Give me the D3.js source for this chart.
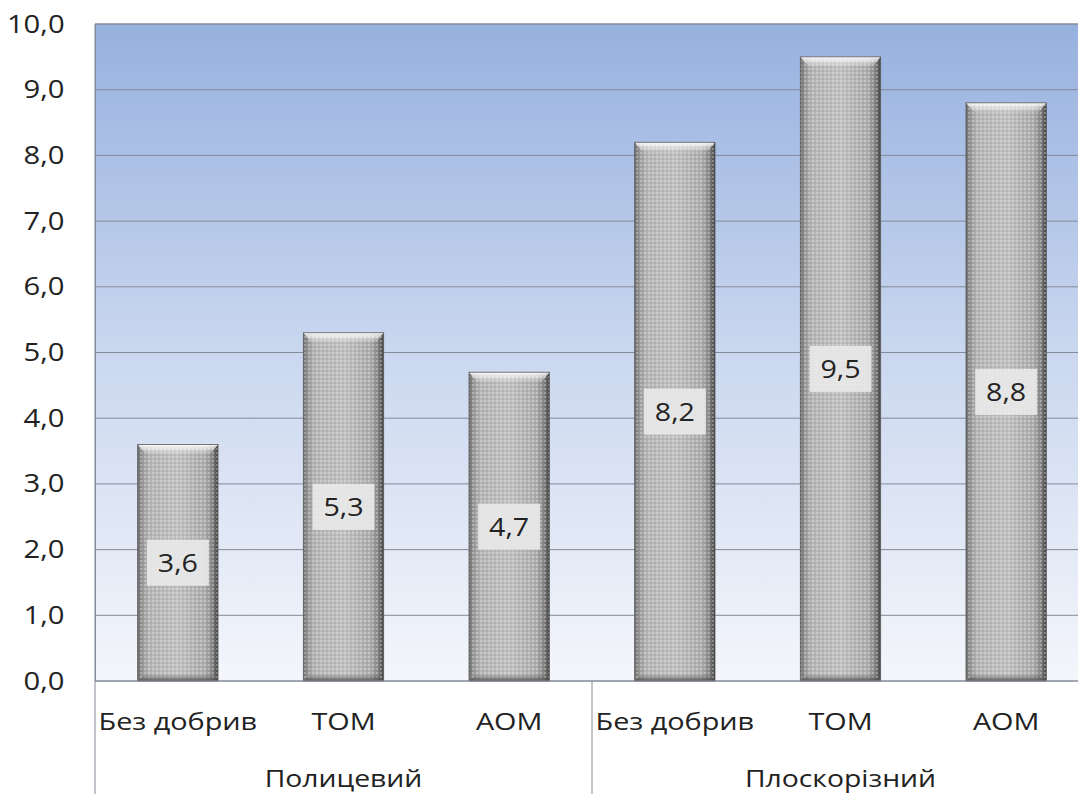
<!DOCTYPE html>
<html><head><meta charset="utf-8">
<script src="https://cdn.jsdelivr.net/npm/d3@7"></script>
<style>body{margin:0;background:#fff;}svg{display:block;font-family:"Open Sans",sans-serif;}</style>
</head><body><svg id="c" width="1078" height="794"></svg>
<script>
const groups = ["Полицевий", "Плоскорізний"];
const categories = ["Без добрив", "ТОМ", "АОМ"];
const values = [3.6, 5.3, 4.7, 8.2, 9.5, 8.8];
const yTicks = [0,1,2,3,4,5,6,7,8,9,10];

const svg = d3.select("#c");
const m = {left:95, top:24, right:1089, bottom:681};
const rows = [];
groups.forEach((g,gi)=>categories.forEach((c,ci)=>rows.push({g, c, key:g+"|"+c, v:values[gi*categories.length+ci]})));

const x = d3.scaleBand().domain(rows.map(r=>r.key)).range([m.left,m.right]).paddingInner(0.515).paddingOuter(0.2575);
const y = d3.scaleLinear().domain([0,10]).range([m.bottom,m.top]);
const fmt = v => d3.format(".1f")(v).replace(".", ",");
const textCol = "#222";

const defs = svg.append("defs");
const bg = defs.append("linearGradient").attr("id","bg").attr("x1",0).attr("y1",0).attr("x2",0).attr("y2",1);
bg.append("stop").attr("offset","0%").attr("stop-color","#97b1df");
bg.append("stop").attr("offset","50%").attr("stop-color","#cad7ef");
bg.append("stop").attr("offset","100%").attr("stop-color","#f4f6fb");

const bh = defs.append("linearGradient").attr("id","bh").attr("x1",0).attr("y1",0).attr("x2",1).attr("y2",0);
[["0%","#6a6a6a"],["6%","#999"],["14%","#b6b6b6"],["50%","#c2c2c2"],["84%","#adadad"],["93%","#858585"],["100%","#3e3e3e"]]
  .forEach(([o,c])=>bh.append("stop").attr("offset",o).attr("stop-color",c));
const pat = defs.append("pattern").attr("id","dots").attr("width",4).attr("height",4).attr("patternUnits","userSpaceOnUse");
pat.append("circle").attr("cx",1).attr("cy",1).attr("r",0.8).attr("fill","#eeeeee").attr("opacity",0.75);
pat.append("circle").attr("cx",3).attr("cy",3).attr("r",0.7).attr("fill","#6a6a6a").attr("opacity",0.4);
const tb = defs.append("linearGradient").attr("id","tb").attr("x1",0).attr("y1",0).attr("x2",0).attr("y2",1);
tb.append("stop").attr("offset","0%").attr("stop-color","#ffffff").attr("stop-opacity",0.95);
tb.append("stop").attr("offset","100%").attr("stop-color","#ffffff").attr("stop-opacity",0);
const bb = defs.append("linearGradient").attr("id","bb").attr("x1",0).attr("y1",0).attr("x2",0).attr("y2",1);
bb.append("stop").attr("offset","0%").attr("stop-color","#555").attr("stop-opacity",0);
bb.append("stop").attr("offset","100%").attr("stop-color","#444").attr("stop-opacity",0.75);

// plot background
svg.append("rect").attr("x",m.left).attr("y",m.top).attr("width",m.right-m.left).attr("height",m.bottom-m.top).attr("fill","url(#bg)");

// gridlines
svg.append("g").selectAll("line").data(yTicks).join("line")
  .attr("x1",m.left).attr("x2",m.right).attr("y1",d=>y(d)).attr("y2",d=>y(d))
  .attr("stroke","#848b98").attr("stroke-width",1);

// y axis
const ya = svg.append("g").attr("transform",`translate(${m.left},0)`)
  .call(d3.axisLeft(y).tickValues(yTicks).tickFormat(fmt).tickSize(0).tickPadding(26));
ya.select(".domain").attr("stroke","#848b98");
ya.selectAll("text").attr("font-size",25).attr("fill",textCol).attr("font-family","Open Sans")
  .attr("transform","scale(1.17,1)");

// bars
const bars = svg.append("g").selectAll("g").data(rows).join("g");
bars.append("rect").attr("x",d=>x(d.key)).attr("y",d=>y(d.v)).attr("width",x.bandwidth()).attr("height",d=>y(0)-y(d.v)).attr("fill","url(#bh)");
bars.append("rect").attr("x",d=>x(d.key)).attr("y",d=>y(d.v)).attr("width",x.bandwidth()).attr("height",d=>y(0)-y(d.v)).attr("fill","url(#dots)");
bars.append("path").attr("d",d=>{const x0=x(d.key),w=x.bandwidth(),t=y(d.v);return `M${x0},${t}L${x0+w},${t}L${x0+w-8},${t+10}L${x0+8},${t+10}Z`;}).attr("fill","url(#tb)");
bars.append("path").attr("d",d=>{const x0=x(d.key),w=x.bandwidth(),b=y(0);return `M${x0},${b}L${x0+w},${b}L${x0+w-8},${b-7}L${x0+8},${b-7}Z`;}).attr("fill","url(#bb)");
bars.append("rect").attr("x",d=>x(d.key)).attr("y",d=>y(d.v)).attr("width",x.bandwidth()).attr("height",d=>y(0)-y(d.v)).attr("fill","none").attr("stroke","#5a5a5a").attr("stroke-width",0.8);

// data labels
const lab = svg.append("g").selectAll("g").data(rows).join("g")
  .attr("transform",d=>`translate(${x(d.key)+x.bandwidth()/2},${(y(d.v)+y(0))/2})`);
lab.append("rect").attr("x",-31).attr("y",-23).attr("width",62).attr("height",46).attr("fill","#e8e8e8").attr("opacity",0.92);
lab.append("text").attr("text-anchor","middle").attr("dy","0.36em").attr("font-size",26).attr("fill",textCol)
  .attr("transform","scale(1.1,1)").text(d=>fmt(d.v));

// x axis line & separators
svg.append("line").attr("x1",m.left).attr("x2",m.right).attr("y1",m.bottom).attr("y2",m.bottom).attr("stroke","#848b98");
svg.append("line").attr("x1",m.left).attr("x2",m.right).attr("y1",m.top).attr("y2",m.top).attr("stroke","#848b98");
svg.append("line").attr("x1",m.left).attr("x2",m.left).attr("y1",m.top).attr("y2",794).attr("stroke","#848b98");
const sepX = (x(rows[2].key)+x.bandwidth()+x(rows[3].key))/2;
svg.append("line").attr("x1",sepX).attr("x2",sepX).attr("y1",m.bottom).attr("y2",794).attr("stroke","#848b98");

// category labels
svg.append("g").selectAll("text").data(rows).join("text")
  .attr("transform",d=>`translate(${x(d.key)+x.bandwidth()/2},721) scale(1.2,1)`).attr("dy","0.36em").attr("text-anchor","middle")
  .attr("font-size",24).attr("fill",textCol).text(d=>d.c);
// group labels
svg.append("g").selectAll("text").data(groups).join("text")
  .attr("transform",(d,i)=>{const a=x(rows[i*3].key), b=x(rows[i*3+2].key)+x.bandwidth(); return `translate(${(a+b)/2},778) scale(1.18,1)`;})
  .attr("dy","0.36em").attr("text-anchor","middle")
  .attr("font-size",24).attr("fill",textCol).text(d=>d);
</script></body></html>
